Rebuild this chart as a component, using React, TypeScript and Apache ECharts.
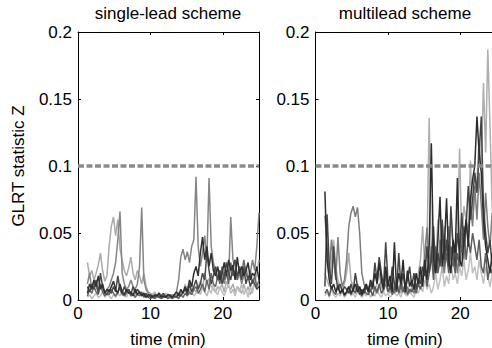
import React, { useEffect, useRef } from "react";
import * as echarts from "echarts";

// time samples (min)
const TIME = [
  1.3, 1.6, 1.9, 2.2, 2.5, 2.8, 3.1, 3.4, 3.7, 4.0,
  4.3, 4.6, 4.9, 5.2, 5.5, 5.8, 6.1, 6.4, 6.7, 7.0,
  7.3, 7.6, 7.9, 8.2, 8.5, 8.8, 9.1, 9.4, 9.7, 10.0,
  10.3, 10.6, 10.9, 11.2, 11.5, 11.8, 12.1, 12.4, 12.7, 13.0,
  13.3, 13.6, 13.9, 14.2, 14.5, 14.8, 15.1, 15.4, 15.7, 16.0,
  16.3, 16.6, 16.9, 17.2, 17.5, 17.8, 18.1, 18.4, 18.7, 19.0,
  19.3, 19.6, 19.9, 20.2, 20.5, 20.8, 21.1, 21.4, 21.7, 22.0,
  22.3, 22.6, 22.9, 23.2, 23.5, 23.8, 24.1, 24.4, 24.7, 25.0,
];

// values in thousandths of Z
const UNIT = 1000;
const THRESHOLD = 0.1;
const X_TICKS = [0, 10, 20];
const Y_TICKS = [0, 0.05, 0.1, 0.15, 0.2];

// ---- single-lead scheme ----
const SL_LIGHT_A = [
  28, 18, 22, 15, 20, 26, 35, 22, 14, 18,
  40, 55, 62, 48, 60, 38, 30, 22, 18, 24,
  32, 20, 15, 22, 18, 12, 20, 10, 6, 5,
  4, 6, 3, 5, 4, 3, 5, 2, 4, 3,
  2, 4, 3, 6, 5, 8, 10, 6, 12, 8,
  6, 10, 14, 8, 20, 12, 16, 10, 8, 6,
  10, 8, 12, 6, 14, 10, 8, 12, 6, 10,
  8, 5, 12, 6, 10, 4, 8, 12, 20, 30,
];
const SL_LIGHT_B = [
  2, 4, 1, 3, 5, 2, 3, 6, 2, 4,
  3, 1, 4, 2, 5, 3, 8, 4, 2, 6,
  3, 5, 2, 8, 4, 3, 6, 2, 4, 3,
  5, 2, 3, 6, 2, 4, 3, 5, 2, 3,
  4, 2, 6, 3, 5, 12, 8, 4, 6, 3,
  5, 8, 4, 10, 6, 3, 8, 5, 12, 6,
  4, 10, 6, 3, 8, 12, 5, 8, 3, 10,
  6, 12, 4, 8, 2, 10, 5, 15, 8, 12,
];
const SL_MID_A = [
  12, 20, 8, 14, 10, 6, 12, 8, 5, 8,
  10, 15, 20, 28, 45, 66, 20, 12, 8, 10,
  15, 10, 8, 12, 25, 69, 15, 8, 5, 3,
  2, 3, 2, 4, 3, 2, 3, 2, 3, 4,
  3, 6, 15, 32, 38, 30, 36, 28, 40, 45,
  92, 40, 25, 35, 48, 30, 91, 40, 28, 20,
  15, 22, 18, 12, 20, 15, 62, 30, 25, 15,
  20, 12, 18, 25, 15, 20, 30, 22, 40, 65,
];
const SL_MID_B = [
  3, 8, 5, 10, 6, 4, 12, 6, 3, 5,
  4, 8, 5, 3, 6, 10, 4, 3, 5, 8,
  3, 5, 2, 4, 3, 6, 2, 3, 2, 1,
  2, 1, 3, 2, 1, 2, 3, 1, 2, 1,
  2, 3, 1, 4, 2, 5, 3, 6, 4, 8,
  10, 5, 8, 12, 6, 15, 8, 20, 12, 10,
  18, 12, 25, 15, 20, 12, 28, 18, 22, 15,
  25, 18, 30, 20, 15, 22, 12, 18, 10, 15,
];
const SL_DARK_A = [
  5, 12, 8, 15, 10, 18, 8, 12, 5, 8,
  6, 10, 14, 8, 5, 12, 6, 4, 8, 5,
  6, 3, 8, 4, 6, 3, 5, 2, 4, 3,
  2, 4, 3, 5, 2, 3, 2, 4, 3, 2,
  4, 6, 3, 8, 5, 10, 6, 15, 10, 20,
  25, 18, 35, 47, 30, 40, 25, 35, 22, 18,
  25, 15, 20, 28, 18, 30, 22, 26, 15, 32,
  20, 25, 18, 22, 28, 15, 20, 18, 25, 15,
];
const SL_DARK_B = [
  10, 6, 12, 8, 15, 5, 20, 10, 6, 4,
  8, 5, 10, 6, 18, 8, 5, 10, 6, 8,
  4, 10, 5, 8, 6, 4, 3, 5, 2, 4,
  3, 2, 4, 2, 3, 5, 2, 3, 4, 2,
  3, 2, 5, 3, 6, 8, 4, 12, 6, 10,
  15, 8, 12, 20, 15, 35, 22, 12, 18, 25,
  15, 22, 12, 18, 28, 20, 15, 25, 30, 18,
  22, 15, 25, 12, 18, 10, 15, 12, 8, 10,
];

// ---- multilead scheme ----
const ML_LIGHT_A = [
  20, 15, 10, 30, 45, 25, 15, 10, 8, 12,
  20, 35, 15, 10, 8, 6, 10, 5, 8, 12,
  10, 6, 15, 8, 12, 20, 10, 6, 15, 8,
  5, 10, 6, 12, 8, 5, 10, 6, 8, 5,
  10, 6, 15, 20, 30, 55, 25, 40, 136, 30,
  45, 25, 60, 35, 20, 55, 30, 25, 60, 40,
  30, 50, 113, 45, 70, 60, 50, 104, 60, 80,
  90, 120, 100, 162, 110, 187, 130, 70, 50, 60,
];
const ML_LIGHT_B = [
  3, 6, 2, 8, 4, 2, 5, 3, 6, 2,
  4, 8, 3, 5, 2, 6, 4, 2, 5, 3,
  6, 2, 5, 3, 8, 4, 2, 6, 3, 5,
  2, 4, 6, 3, 5, 2, 8, 4, 3, 6,
  4, 2, 8, 5, 10, 6, 15, 8, 12, 5,
  10, 20, 8, 15, 25, 10, 18, 12, 30, 15,
  20, 12, 25, 18, 30, 15, 22, 35, 20, 25,
  15, 30, 20, 12, 25, 18, 10, 20, 15, 10,
];
const ML_MID_A = [
  63, 40, 20, 45, 30, 15, 47, 20, 10, 15,
  30, 55, 65, 70, 62, 69, 50, 20, 12, 8,
  10, 6, 12, 8, 5, 10, 15, 8, 12, 6,
  8, 12, 5, 10, 6, 15, 8, 5, 10, 6,
  8, 5, 12, 10, 20, 15, 35, 54, 25, 40,
  20, 35, 25, 45, 30, 20, 40, 55, 30, 25,
  40, 20, 35, 50, 30, 60, 45, 70, 55, 85,
  60, 95, 70, 45, 80, 55, 40, 65, 30, 45,
];
const ML_MID_B = [
  5, 8, 3, 10, 6, 4, 12, 5, 8, 3,
  6, 10, 4, 8, 5, 12, 6, 3, 8, 5,
  4, 8, 3, 10, 6, 12, 5, 8, 20, 6,
  10, 4, 8, 15, 5, 10, 6, 12, 4, 8,
  6, 10, 5, 12, 8, 15, 25, 10, 20, 35,
  15, 40, 20, 30, 50, 25, 35, 20, 40, 30,
  20, 35, 25, 40, 55, 30, 45, 35, 50, 40,
  30, 45, 25, 20, 35, 15, 25, 20, 15, 25,
];
const ML_DARK_A = [
  81, 30, 15, 8, 12, 6, 10, 5, 8, 4,
  6, 10, 5, 8, 12, 6, 10, 4, 8, 12,
  6, 15, 10, 20, 12, 28, 15, 8, 25, 10,
  18, 6, 43, 8, 20, 12, 30, 6, 22, 10,
  15, 8, 20, 12, 25, 10, 30, 15, 40, 117,
  30, 20, 45, 77, 25, 40, 76, 30, 20, 45,
  35, 91, 30, 25, 45, 60, 40, 75, 90, 100,
  137, 110, 95, 60, 40, 30, 20, 35, 25, 30,
];
const ML_DARK_B = [
  10, 64, 25, 12, 40, 18, 8, 12, 6, 10,
  8, 5, 12, 6, 20, 10, 4, 8, 5, 10,
  6, 12, 8, 28, 15, 32, 20, 10, 43, 15,
  8, 25, 12, 6, 35, 10, 20, 8, 15, 25,
  10, 20, 8, 15, 12, 25, 18, 40, 20, 30,
  55, 20, 35, 25, 60, 30, 45, 25, 70, 40,
  25, 50, 35, 65, 40, 55, 85, 60, 75, 95,
  80, 110, 137, 70, 50, 35, 45, 25, 30, 20,
];

const FONT = '"Liberation Sans", Arial, Helvetica, sans-serif';
const FS = 17;

const LEFT_PANEL = [
  { v: SL_LIGHT_A, c: "#ababab" },
  { v: SL_LIGHT_B, c: "#bdbdbd" },
  { v: SL_MID_A, c: "#858585" },
  { v: SL_MID_B, c: "#666666" },
  { v: SL_DARK_B, c: "#4a4a4a" },
  { v: SL_DARK_A, c: "#303030" },
];
const RIGHT_PANEL = [
  { v: ML_LIGHT_B, c: "#c0c0c0" },
  { v: ML_LIGHT_A, c: "#aeaeae" },
  { v: ML_MID_A, c: "#7d7d7d" },
  { v: ML_MID_B, c: "#5e5e5e" },
  { v: ML_DARK_B, c: "#454545" },
  { v: ML_DARK_A, c: "#2c2c2c" },
];

function lineSeries(values: number[], color: string, axis: number) {
  return {
    type: "line",
    xAxisIndex: axis,
    yAxisIndex: axis,
    data: TIME.map((t, i) => [t, values[i] / UNIT]),
    showSymbol: false,
    symbol: "none",
    silent: true,
    lineStyle: { color, width: 1.5 },
    z: 2,
  };
}

function thresholdSeries(axis: number) {
  return {
    type: "line",
    xAxisIndex: axis,
    yAxisIndex: axis,
    data: [
      [X_TICKS[0], THRESHOLD],
      [25, THRESHOLD],
    ],
    showSymbol: false,
    symbol: "none",
    silent: true,
    lineStyle: { color: "#8a8a8a", width: 3.5, type: [6, 2.5] },
    z: 5,
  };
}

function xAxes(grid: number) {
  const base = {
    gridIndex: grid,
    type: "value",
    min: 0,
    max: 25,
    interval: 10,
    splitLine: { show: false },
    axisLine: { show: true, onZero: false, lineStyle: { color: "#000", width: 1 } },
    axisTick: { show: true, inside: true, length: 3, lineStyle: { color: "#000" } },
  };
  return [
    {
      ...base,
      position: "bottom",
      axisLabel: {
        show: true,
        color: "#000",
        fontSize: FS,
        fontFamily: FONT,
        margin: 5,
        showMaxLabel: false,
      },
    },
    { ...base, position: "top", axisLabel: { show: false } },
  ];
}

function yAxes(grid: number) {
  const base = {
    gridIndex: grid,
    type: "value",
    min: Y_TICKS[0],
    max: Y_TICKS[Y_TICKS.length - 1],
    interval: 0.05,
    splitLine: { show: false },
    axisLine: { show: true, onZero: false, lineStyle: { color: "#000", width: 1 } },
    axisTick: { show: true, inside: true, length: 3, lineStyle: { color: "#000" } },
  };
  return [
    {
      ...base,
      position: "left",
      axisLabel: { show: true, color: "#000", fontSize: FS, fontFamily: FONT, margin: 6 },
    },
    { ...base, position: "right", axisLabel: { show: false } },
  ];
}

function txt(text: string, x: number, y: number, rotation = 0) {
  return {
    type: "text",
    x,
    y,
    rotation,
    silent: true,
    style: {
      text,
      fill: "#000",
      fontSize: FS,
      fontFamily: FONT,
      align: "center",
      verticalAlign: "middle",
      textAlign: "center",
      textVerticalAlign: "middle",
    },
  };
}

export default function App() {
  const ref = useRef<HTMLDivElement>(null);
  useEffect(() => {
    if (!ref.current) return;
    const chart = echarts.init(ref.current, undefined, { renderer: "svg" });
    const lx = xAxes(0);
    const rx = xAxes(1);
    const ly = yAxes(0);
    const ry = yAxes(1);
    const option: any = {
      animation: false,
      backgroundColor: "#fff",
      grid: [
        { left: 78, top: 32, width: 181, height: 268 },
        { left: 315.5, top: 32, width: 181, height: 268 },
      ],
      xAxis: [lx[0], lx[1], rx[0], rx[1]],
      yAxis: [ly[0], ly[1], ry[0], ry[1]],
      series: [
        ...LEFT_PANEL.map((s) => lineSeries(s.v, s.c, 0)),
        thresholdSeries(0),
        ...RIGHT_PANEL.map((s) => lineSeries(s.v, s.c, 2)),
        thresholdSeries(2),
      ],
      graphic: [
        txt("single-lead scheme", 168, 13),
        txt("multilead scheme", 405, 13),
        txt("time (min)", 168, 339),
        txt("time (min)", 405, 339),
        txt("GLRT statistic Z", 18, 166, Math.PI / 2),
      ],
    };
    chart.setOption(option);
    return () => chart.dispose();
  }, []);
  return (
    <div
      ref={ref}
      style={{ position: "fixed", left: 0, top: 0, width: 540, height: 348 }}
    />
  );
}
